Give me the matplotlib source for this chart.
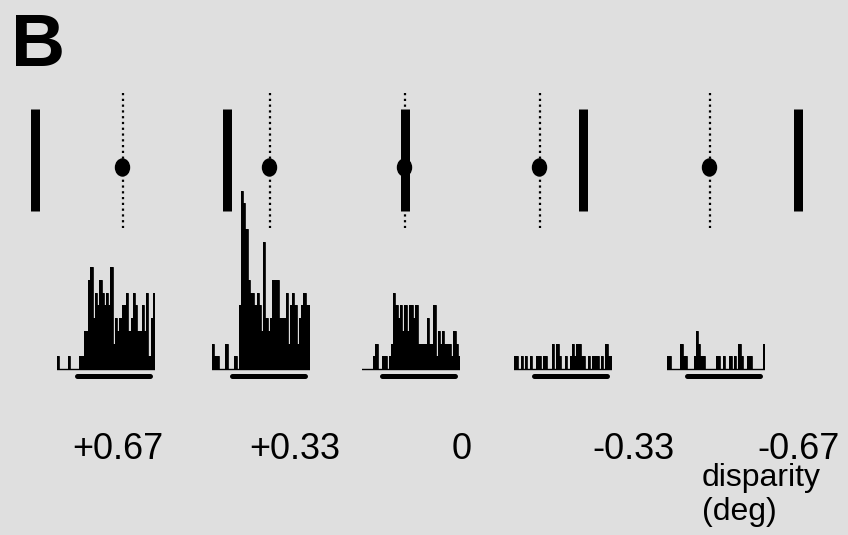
import numpy as np
import matplotlib
matplotlib.use('Agg')
import matplotlib.pyplot as plt
from matplotlib.path import Path

# ---------------- data ----------------
disparities = [0.67, 0.33, 0.0, -0.33, -0.67]          # deg
disparity_labels = ['+0.67', '+0.33', '0', '-0.33', '-0.67']
bin_edges_ms = np.arange(-200, 901, 25)                  # 44 bins of 25 ms
counts_p1 = [1,0,0,0,0,1,0,0,0,0,1,1,3,3,7,8,4,6,5,7,6,5,6,5,8,2,4,3,4,5,5,6,3,4,6,5,3,3,5,3,6,1,4,6]
counts_p2 = [2,1,1,0,0,0,2,0,0,0,1,0,5,14,13,11,7,6,6,5,6,5,3,10,4,3,4,7,7,7,4,4,4,6,2,5,6,5,2,4,5,6,5,5]
counts_p3 = [0,0,0,0,0,1,2,0,0,1,1,0,1,2,6,5,4,5,3,5,3,5,5,4,5,2,2,2,2,4,2,2,5,1,3,2,3,2,2,2,1,3,2,1]
counts_p4 = [1,1,0,1,0,1,0,1,0,0,1,1,0,1,1,0,0,2,0,2,1,0,0,1,0,1,2,1,2,2,1,1,0,1,0,1,1,1,0,1,0,2,1,1]
counts_p5 = [1,1,0,0,0,0,2,1,1,0,0,0,1,3,2,1,1,0,0,0,0,0,1,1,0,1,0,0,1,0,1,0,2,1,0,0,1,1,0,0,0,0,0,2]
all_counts = [counts_p1, counts_p2, counts_p3, counts_p4, counts_p5]
stim_on_ms, stim_off_ms = 20, 840

# ---------------- layout ----------------
W, H = 848, 535
BG = '#dfdfdf'
plt.rcParams['font.family'] = ['Liberation Sans', 'DejaVu Sans']
fig = plt.figure(figsize=(W / 100, H / 100), dpi=100)
fig.patch.set_facecolor(BG)

def px_axes(x0, y_top, w, h):
    ax = fig.add_axes([x0 / W, 1 - (y_top + h) / H, w / W, h / H])
    ax.set_facecolor('none')
    ax.axis('off')
    return ax

PT = 72 / 100  # points per pixel

fix_x_px = [123, 270, 405, 540, 710]
hist_x_px = [57, 212, 362, 514, 667]
label_x_px = [118, 295, 462, 633, 799]
px_per_deg = 131
half_w = 110

ellipse = Path(Path.unit_circle().vertices @ np.diag([14 / 17, 1.0]),
               Path.unit_circle().codes)

for k, d in enumerate(disparities):
    # stimulus diagram: fixation line + dot, bar displaced by disparity
    ax = px_axes(fix_x_px[k] - half_w, 90, 2 * half_w, 140)
    ax.set_xlim(-half_w / px_per_deg, half_w / px_per_deg)
    ax.set_ylim(230, 90)
    ax.plot([0, 0], [93, 228], color='k', lw=1.6, ls=(0, (1, 1.6)),
            dash_capstyle='butt', clip_on=False)
    ax.plot([-d, -d], [109, 211], color='k', lw=9 * PT,
            solid_capstyle='butt', clip_on=False)
    ax.plot([-0.01], [167], marker=ellipse, ms=17 * PT, color='k',
            ls='none', clip_on=False)

    # PSTH
    hx = px_axes(hist_x_px[k], 177.75, 98, 204)
    hx.set_xlim(bin_edges_ms[0], bin_edges_ms[-1])
    hx.set_ylim(-1, 15)
    hx.stairs(all_counts[k], bin_edges_ms, fill=True, color='k', linewidth=0)
    hx.stairs(all_counts[k], bin_edges_ms, fill=False, color='k', linewidth=0.6)
    hx.plot([bin_edges_ms[0], bin_edges_ms[-1]], [0, 0], color='k', lw=1.0)
    hx.plot([stim_on_ms, stim_off_ms], [-0.55, -0.55], color='k',
            lw=5 * PT, solid_capstyle='round', clip_on=False)

    fig.text(label_x_px[k] / W, 1 - 459 / H, disparity_labels[k],
             ha='center', va='baseline', fontsize=26, color='k')

fig.text(11 / W, 1 - 66 / H, 'B', fontsize=54, fontweight='bold',
         ha='left', va='baseline', color='k')
fig.text(702 / W, 1 - 486 / H, 'disparity', fontsize=23,
         ha='left', va='baseline', color='k')
fig.text(702 / W, 1 - 520 / H, '(deg)', fontsize=23,
         ha='left', va='baseline', color='k')

fig.savefig('out.png', dpi=100, facecolor=BG)
